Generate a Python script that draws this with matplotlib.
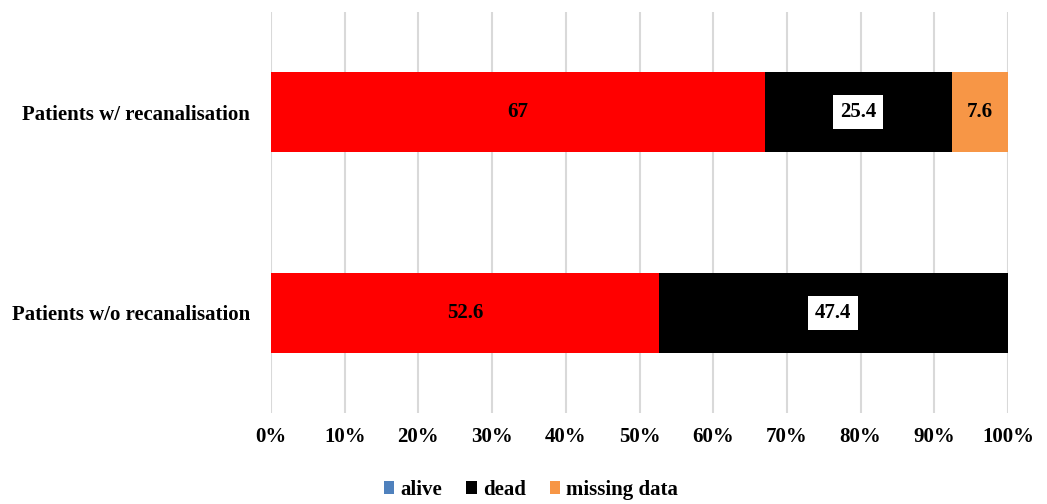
import matplotlib
matplotlib.use("Agg")
import matplotlib.pyplot as plt
from matplotlib.patches import Patch

plt.rcParams['font.family'] = ['Liberation Serif', 'DejaVu Serif']
plt.rcParams['font.weight'] = 'bold'

categories = ["Patients w/o recanalisation", "Patients w/ recanalisation"]
alive = [52.6, 67.0]
dead = [47.4, 25.4]
missing = [0.0, 7.6]
xticks = [0, 10, 20, 30, 40, 50, 60, 70, 80, 90, 100]

bar_colors = {"alive": "#FF0000", "dead": "#000000", "missing": "#F79646"}
legend_colors = {"alive": "#4F81BD", "dead": "#000000", "missing data": "#F79646"}

W, H = 1047, 504
fig = plt.figure(figsize=(W / 100, H / 100), dpi=100)
ax = fig.add_axes([271 / W, 1 - 413 / H, (1008 - 271) / W, 401 / H])

y = [0, 1]
h = 0.4
ax.barh(y, alive, height=h, color=bar_colors["alive"], zorder=3)
ax.barh(y, dead, left=alive, height=h, color=bar_colors["dead"], zorder=3)
left_m = [a + d for a, d in zip(alive, dead)]
ax.barh(y, missing, left=left_m, height=h, color=bar_colors["missing"], zorder=3)

fs = 15
for i in y:
    ax.text(alive[i] / 2, i, f"{alive[i]:g}", ha="center", va="center",
            fontsize=fs, fontweight="bold", color="black", zorder=4)
    ax.text(alive[i] + dead[i] / 2, i, f"{dead[i]:g}", ha="center", va="center",
            fontsize=fs, fontweight="bold", color="black", zorder=4,
            bbox=dict(facecolor="white", edgecolor="none", pad=5))
    if missing[i] > 0:
        ax.text(left_m[i] + missing[i] / 2, i, f"{missing[i]:g}", ha="center",
                va="center", fontsize=fs, fontweight="bold", color="black", zorder=4)

ax.set_xlim(0, 100)
ax.set_ylim(-0.5, 1.5)
ax.set_xticks(xticks)
ax.set_xticklabels([f"{t}%" for t in xticks], fontsize=fs, fontweight="bold")
ax.set_yticks(y)
ax.set_yticklabels(categories, fontsize=fs, fontweight="bold")
ax.grid(axis="x", color="#D9D9D9", linewidth=1.5, zorder=0)
for s in ax.spines.values():
    s.set_visible(False)
ax.tick_params(axis="x", length=0, pad=10)
ax.tick_params(axis="y", length=0, pad=15)

handles = [Patch(facecolor=c, edgecolor="none", label=l) for l, c in legend_colors.items()]
fig.legend(handles=handles, loc="center", bbox_to_anchor=(531 / W, 1 - 490 / H),
           ncol=3, frameon=False, handlelength=0.5, handleheight=0.62,
           handletextpad=0.3, columnspacing=1.15,
           prop={'weight': 'bold', 'size': fs})

fig.savefig("out.png", dpi=100)
